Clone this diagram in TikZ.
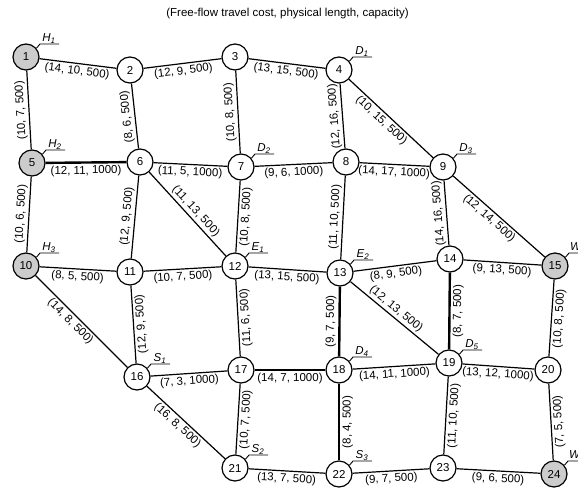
\documentclass[tikz,border=0pt]{standalone}
\usepackage{fontspec}
\setmainfont{Liberation Sans}
\usetikzlibrary{calc}

% marker with a subscripted letter at the upper right of a station
\newcommand\stationtag[2]{%
  \draw[tagline] (#1.40) -- ($(#1)+(14,-13)$) -- ++(19,0);
  \node[tagtext] (tag-#1) at ($(#1)+(23,-15.5)$) {#2};
}

\begin{document}
\begin{tikzpicture}[x=1pt,y=-1pt,
  station/.style={circle, draw, line width=1.2pt, fill=white, minimum size=26pt,
                  inner sep=0pt, font=\fontsize{11.5}{12}\selectfont},
  zone/.style={station, fill=gray!40},
  link/.style={line width=1.2pt},
  heavy/.style={line width=2.4pt},
  lbl/.style={font=\fontsize{11.5}{12}\selectfont, inner sep=2pt, sloped, allow upside down},
  tagline/.style={line width=0.9pt},
  tagtext/.style={font=\fontsize{11.5}{12}\selectfont\itshape, inner sep=0pt, anchor=base}
]
\useasboundingbox (0,0) rectangle (578,490);
\clip (0,0) rectangle (578,490);

\node[font=\fontsize{11.5}{12}\selectfont] (title) at (287.5,14)
  {(Free-flow travel cost, physical length, capacity)};

% stations
\node[zone]    (n1)  at (26,57)   {1};
\node[station] (n2)  at (130,70)  {2};
\node[station] (n3)  at (235,57)  {3};
\node[station] (n4)  at (339,70)  {4};
\node[zone]    (n5)  at (32,163)  {5};
\node[station] (n6)  at (140,162) {6};
\node[station] (n7)  at (241,167) {7};
\node[station] (n8)  at (346,162) {8};
\node[station] (n9)  at (443,167) {9};
\node[zone]    (n10) at (26,266)  {10};
\node[station] (n11) at (130,272) {11};
\node[station] (n12) at (235,266) {12};
\node[station] (n13) at (340,273) {13};
\node[station] (n14) at (450,259) {14};
\node[zone]    (n15) at (555,266) {15};
\node[station] (n16) at (137,377) {16};
\node[station] (n17) at (241,370) {17};
\node[station] (n18) at (339,370) {18};
\node[station] (n19) at (449,363) {19};
\node[station] (n20) at (548,370) {20};
\node[station] (n21) at (235,468) {21};
\node[station] (n22) at (339,474) {22};
\node[station] (n23) at (443,468) {23};
\node[zone]    (n24) at (554,474) {24};

% horizontal links
\draw[link]  (n1)  -- node[lbl,below] {(14, 10, 500)}  (n2);
\draw[link]  (n2)  -- node[lbl,below] {(12, 9, 500)}   (n3);
\draw[link]  (n3)  -- node[lbl,below] {(13, 15, 500)}  (n4);
\draw[heavy] (n5)  -- node[lbl,below] {(12, 11, 1000)} (n6);
\draw[link]  (n6)  -- node[lbl,below] {(11, 5, 1000)}  (n7);
\draw[link]  (n7)  -- node[lbl,below] {(9, 6, 1000)}   (n8);
\draw[link]  (n8)  -- node[lbl,below] {(14, 17, 1000)} (n9);
\draw[link]  (n10) -- node[lbl,below] {(8, 5, 500)}    (n11);
\draw[link]  (n11) -- node[lbl,below] {(10, 7, 500)}   (n12);
\draw[link]  (n12) -- node[lbl,below] {(13, 15, 500)}  (n13);
\draw[link]  (n13) -- node[lbl,below] {(8, 9, 500)}    (n14);
\draw[link]  (n14) -- node[lbl,below] {(9, 13, 500)}   (n15);
\draw[link]  (n16) -- node[lbl,below] {(7, 3, 1000)}   (n17);
\draw[heavy] (n17) -- node[lbl,below] {(14, 7, 1000)}  (n18);
\draw[link]  (n18) -- node[lbl,below] {(14, 11, 1000)} (n19);
\draw[link]  (n19) -- node[lbl,below] {(13, 12, 1000)} (n20);
\draw[link]  (n21) -- node[lbl,below] {(13, 7, 500)}   (n22);
\draw[link]  (n22) -- node[lbl,below] {(9, 7, 500)}    (n23);
\draw[link]  (n23) -- node[lbl,below] {(9, 6, 500)}    (n24);

% vertical links, drawn upwards
\draw[link]  (n5)  -- node[lbl,above] {(10, 7, 500)}  (n1);
\draw[link]  (n6)  -- node[lbl,above] {(8, 6, 500)}   (n2);
\draw[link]  (n7)  -- node[lbl,above] {(10, 8, 500)}  (n3);
\draw[link]  (n8)  -- node[lbl,above] {(12, 16, 500)} (n4);
\draw[link]  (n10) -- node[lbl,above] {(10, 6, 500)}  (n5);
\draw[link]  (n11) -- node[lbl,above] {(12, 9, 500)}  (n6);
\draw[link]  (n12) -- node[lbl,below] {(10, 8, 500)}  (n7);
\draw[link]  (n13) -- node[lbl,above] {(11, 10, 500)} (n8);
\draw[link]  (n14) -- node[lbl,above] {(14, 16, 500)} (n9);
\draw[link]  (n20) -- node[lbl,below] {(10, 8, 500)}  (n15);
\draw[link]  (n16) -- node[lbl,below] {(12, 9, 500)}  (n11);
\draw[link]  (n17) -- node[lbl,below] {(11, 6, 500)}  (n12);
\draw[heavy] (n18) -- node[lbl,above] {(9, 7, 500)}   (n13);
\draw[heavy] (n19) -- node[lbl,below] {(8, 7, 500)}   (n14);
\draw[link]  (n21) -- node[lbl,below] {(10, 7, 500)}  (n17);
\draw[heavy] (n22) -- node[lbl,below] {(8, 4, 500)}   (n18);
\draw[link]  (n23) -- node[lbl,below] {(11, 10, 500)} (n19);
\draw[link]  (n24) -- node[lbl,below] {(7, 5, 500)}   (n20);

% diagonal links
\draw[link] (n4)  -- node[lbl,below,pos=0.45] {(10, 15, 500)} (n9);
\draw[link] (n6)  -- node[lbl,above,pos=0.53] {(11, 13, 500)} (n12);
\draw[link] (n9)  -- node[lbl,below,pos=0.45] {(12, 14, 500)} (n15);
\draw[link] (n13) -- node[lbl,above,pos=0.46] {(12, 13, 500)} (n19);
\draw[link] (n10) -- node[lbl,below,pos=0.44] {(14, 8, 500)}  (n16);
\draw[link] (n16) -- node[lbl,below,pos=0.46] {(16, 8, 500)}  (n21);

% origin, destination and transfer markers
\stationtag{n1}{H\textsubscript{1}}
\stationtag{n5}{H\textsubscript{2}}
\stationtag{n10}{H\textsubscript{3}}
\stationtag{n4}{D\textsubscript{1}}
\stationtag{n7}{D\textsubscript{2}}
\stationtag{n9}{D\textsubscript{3}}
\stationtag{n18}{D\textsubscript{4}}
\stationtag{n19}{D\textsubscript{5}}
\stationtag{n12}{E\textsubscript{1}}
\stationtag{n13}{E\textsubscript{2}}
\stationtag{n16}{S\textsubscript{1}}
\stationtag{n21}{S\textsubscript{2}}
\stationtag{n22}{S\textsubscript{3}}
\stationtag{n15}{W\textsubscript{1}}
\stationtag{n24}{W\textsubscript{2}}
\end{tikzpicture}
\end{document}
